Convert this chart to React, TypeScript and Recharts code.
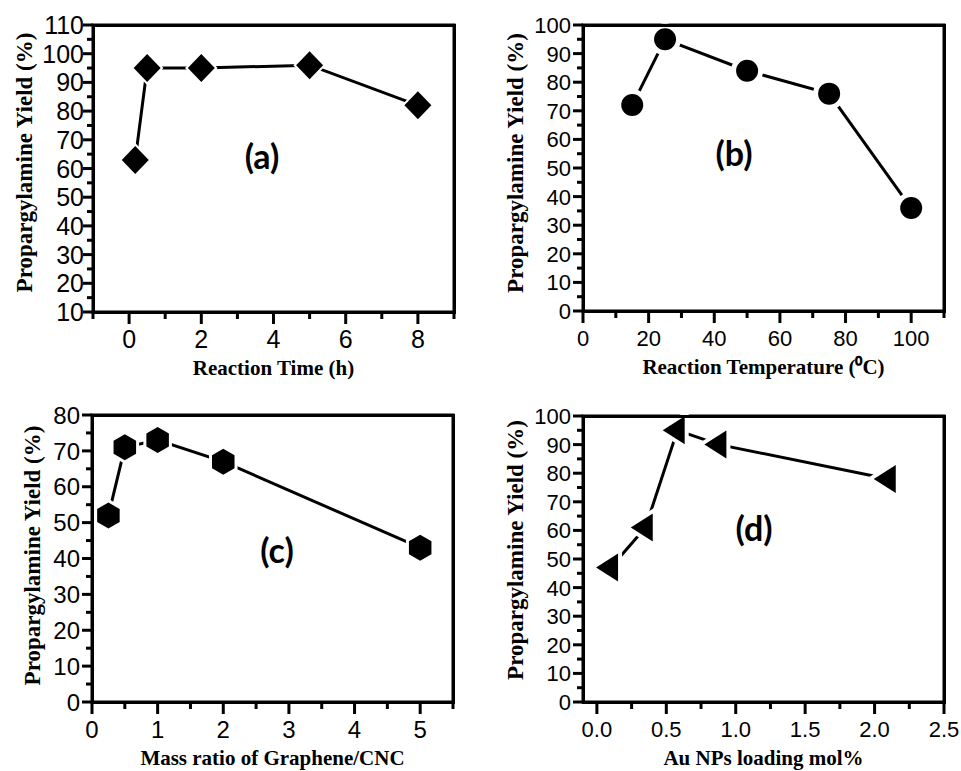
import React from 'react';
import { LineChart, Line, XAxis, YAxis } from 'recharts';

// (a) reaction time
const timeH = [0.17, 0.5, 2, 5, 8];
const timeYield = [63, 95, 95, 96, 82];
// (b) reaction temperature
const tempC = [15, 25, 50, 75, 100];
const tempYield = [72, 95, 84, 76, 36];
// (c) graphene / CNC mass ratio
const massRatio = [0.25, 0.5, 1, 2, 5];
const massYield = [52, 71, 73, 67, 43];
// (d) Au NPs loading
const auLoading = [0.1, 0.35, 0.58, 0.88, 2.1];
const auYield = [47, 61, 95, 90, 78];

const timeTicks = [-1, 0, 1, 2, 3, 4, 5, 6, 7, 8, 9];
const timeLabels = [0, 2, 4, 6, 8];
const tempTicks = [0, 10, 20, 30, 40, 50, 60, 70, 80, 90, 100, 110];
const tempLabels = [0, 20, 40, 60, 80, 100];
const massTicks = [0, 0.5, 1, 1.5, 2, 2.5, 3, 3.5, 4, 4.5, 5, 5.5];
const massLabels = [0, 1, 2, 3, 4, 5];
const auTicks = [0, 0.25, 0.5, 0.75, 1, 1.25, 1.5, 1.75, 2, 2.25, 2.5];
const auLabels = [0, 0.5, 1, 1.5, 2, 2.5];

const yTicks110 = [10, 15, 20, 25, 30, 35, 40, 45, 50, 55, 60, 65, 70, 75, 80, 85, 90, 95, 100, 105, 110];
const yLabels110 = [10, 20, 30, 40, 50, 60, 70, 80, 90, 100, 110];
const yTicks100 = [0, 5, 10, 15, 20, 25, 30, 35, 40, 45, 50, 55, 60, 65, 70, 75, 80, 85, 90, 95, 100];
const yLabels100 = [0, 10, 20, 30, 40, 50, 60, 70, 80, 90, 100];
const yTicks80 = [0, 5, 10, 15, 20, 25, 30, 35, 40, 45, 50, 55, 60, 65, 70, 75, 80];
const yLabels80 = [0, 10, 20, 30, 40, 50, 60, 70, 80];

const Y_TITLE = 'Propargylamine Yield (%)';
const SANS = "'Liberation Sans', Arial, sans-serif";
const SERIF = "'Liberation Serif', 'Times New Roman', serif";
const Y_AXIS_W = 60;
const X_AXIS_H = 64;

const has = (list: number[], v: number) => list.some((t) => Math.abs(t - v) < 1e-6);

type Marker = 'diamond' | 'circle' | 'hexagon' | 'triangleLeft';

const markerShape = (kind: Marker, cx: number, cy: number, gap: number) => {
  const common = { fill: '#000', stroke: '#fff', strokeWidth: gap * 2, paintOrder: 'stroke' as any };
  if (kind === 'circle') return <circle cx={cx} cy={cy} r={11} {...common} />;
  let pts: number[][] = [];
  if (kind === 'diamond') {
    pts = [[0, -14], [13.5, 0], [0, 14], [-13.5, 0]];
  } else if (kind === 'hexagon') {
    const r = 13;
    pts = [0, 1, 2, 3, 4, 5].map((i) => {
      const a = (Math.PI / 3) * i - Math.PI / 2;
      return [r * Math.cos(a), r * Math.sin(a)];
    });
  } else {
    pts = [[-14.7, 0], [7.3, -14], [7.3, 14]];
  }
  return <polygon points={pts.map((p) => `${cx + p[0]},${cy + p[1]}`).join(' ')} {...common} />;
};

interface PanelProps {
  xs: number[];
  ys: number[];
  box: { left: number; top: number; width: number; height: number };
  margin: { top: number; right: number; bottom: number; left: number };
  xDomain: [number, number];
  xTicks: number[];
  xLabels: number[];
  xFmt?: (v: number) => string;
  yDomain: [number, number];
  yTicks: number[];
  yLabels: number[];
  xTitle: string;
  marker: Marker;
  gap: number;
  letter: string;
  letterPos: [number, number];
  tickFont: number;
  yLabelGap: number;
  yTitleShift: [number, number];
}

const Panel = (p: PanelProps) => {
  const data = p.xs.map((x, i) => ({ x, y: p.ys[i] }));
  const fmt = p.xFmt || ((v: number) => String(v));
  const plotW = p.box.width - p.margin.left - p.margin.right - Y_AXIS_W;
  const plotH = p.box.height - p.margin.top - p.margin.bottom - X_AXIS_H;
  const plotX = p.margin.left + Y_AXIS_W;
  const plotY = p.margin.top;

  const bottomTick = (t: any) => {
    const v = t.payload.value;
    const major = has(p.xLabels, v);
    return (
      <g>
        <line x1={t.x} x2={t.x} y1={t.y} y2={t.y + (major ? 12 : 7)} stroke="#000" strokeWidth={3} />
        {major && (
          <text x={t.x} y={t.y + 27} dy="0.36em" textAnchor="middle" fontSize={p.tickFont} fontFamily={SANS} fill="#000">
            {fmt(v)}
          </text>
        )}
      </g>
    );
  };
  const leftTick = (t: any) => {
    const v = t.payload.value;
    const major = has(p.yLabels, v);
    return (
      <g>
        <line x1={t.x} x2={t.x - (major ? 10 : 6)} y1={t.y} y2={t.y} stroke="#000" strokeWidth={3} />
        {major && (
          <text x={t.x - p.yLabelGap} y={t.y} dy="0.36em" textAnchor="end" fontSize={p.tickFont} fontFamily={SANS} fill="#000">
            {v}
          </text>
        )}
      </g>
    );
  };

  // the first dot also carries the plot frame (dot layer is always painted)
  const dot = (d: any) => (
    <g key={`m-${d.index}`}>
      {d.index === 0 && (
        <rect x={plotX} y={plotY} width={plotW} height={plotH} fill="none" stroke="#000" strokeWidth={3} />
      )}
      {markerShape(p.marker, d.cx, d.cy, p.gap)}
    </g>
  );

  const xTitle = (l: any) => {
    const vb = l.viewBox;
    return (
      <text x={vb.x + vb.width / 2} y={vb.y + 63} textAnchor="middle" fontSize={21} fontWeight="bold" fontFamily={SERIF} fill="#000">
        {p.xTitle}
      </text>
    );
  };
  const yTitle = (l: any) => {
    const vb = l.viewBox;
    const cx = vb.x + vb.width + p.yTitleShift[0];
    const cy = vb.y + vb.height / 2 + p.yTitleShift[1];
    return (
      <text x={cx} y={cy} transform={`rotate(-90, ${cx}, ${cy})`} textAnchor="middle" dy="0.35em" fontSize={23} fontWeight="bold" fontFamily={SERIF} fill="#000">
        {Y_TITLE}
      </text>
    );
  };

  return (
    <div style={{ position: 'absolute', left: p.box.left, top: p.box.top, width: p.box.width, height: p.box.height }}>
      <LineChart width={p.box.width} height={p.box.height} data={data} margin={p.margin}>
        <Line
          dataKey="y"
          type="linear"
          stroke="#000"
          strokeWidth={3}
          isAnimationActive={false}
          dot={dot}
          activeDot={false}
        />
        <XAxis
          dataKey="x"
          type="number"
          domain={p.xDomain}
          ticks={p.xTicks}
          interval={0}
          height={X_AXIS_H}
          tickSize={0}
          tickMargin={0}
          axisLine={false}
          tick={bottomTick}
          label={xTitle}
        />
        <YAxis
          type="number"
          domain={p.yDomain}
          ticks={p.yTicks}
          interval={0}
          width={Y_AXIS_W}
          tickSize={0}
          tickMargin={0}
          axisLine={false}
          tick={leftTick}
          label={yTitle}
        />
      </LineChart>
      <div
        style={{
          position: 'absolute',
          left: plotX - 1.5,
          top: plotY - 1.5,
          width: plotW + 3,
          height: plotH + 3,
          border: '3px solid #000',
          boxSizing: 'border-box',
          pointerEvents: 'none',
        }}
      />
      <div
        style={{
          position: 'absolute',
          left: p.letterPos[0],
          top: p.letterPos[1],
          transform: 'translate(-50%, -50%)',
          fontFamily: 'Lato, "Open Sans", sans-serif',
          fontWeight: 700,
          fontSize: 34,
          lineHeight: 1,
          color: '#000',
          whiteSpace: 'nowrap',
        }}
      >
        {p.letter}
      </div>
    </div>
  );
};

export default function App() {
  return (
    <div style={{ position: 'absolute', left: 0, top: 0, width: 961, height: 771, background: '#fff', overflow: 'hidden' }}>
      <Panel
        xs={timeH}
        ys={timeYield}
        box={{ left: 0, top: 0, width: 480, height: 385 }}
        margin={{ top: 25, right: 26, bottom: 9, left: 33 }}
        xDomain={[-1, 9]}
        xTicks={timeTicks}
        xLabels={timeLabels}
        yDomain={[10, 110]}
        yTicks={yTicks110}
        yLabels={yLabels110}
        xTitle="Reaction Time (h)"
        marker="diamond"
        gap={2}
        letter="(a)"
        letterPos={[262, 156]}
        tickFont={25}
        yLabelGap={9}
        yTitleShift={[-69, -6]}
      />
      <Panel
        xs={tempC}
        ys={tempYield}
        box={{ left: 480, top: 0, width: 481, height: 385 }}
        margin={{ top: 25, right: 17, bottom: 10, left: 43 }}
        xDomain={[0, 110]}
        xTicks={tempTicks}
        xLabels={tempLabels}
        yDomain={[0, 100]}
        yTicks={yTicks100}
        yLabels={yLabels100}
        xTitle="Reaction Temperature (⁰C)"
        marker="circle"
        gap={5}
        letter="(b)"
        letterPos={[254, 153]}
        tickFont={22}
        yLabelGap={12}
        yTitleShift={[-68, -5]}
      />
      <Panel
        xs={massRatio}
        ys={massYield}
        box={{ left: 0, top: 380, width: 480, height: 391 }}
        margin={{ top: 35, right: 27, bottom: 5, left: 32 }}
        xDomain={[0, 5.5]}
        xTicks={massTicks}
        xLabels={massLabels}
        yDomain={[0, 80]}
        yTicks={yTicks80}
        yLabels={yLabels80}
        xTitle="Mass ratio of Graphene/CNC"
        marker="hexagon"
        gap={3}
        letter="(c)"
        letterPos={[277, 170]}
        tickFont={24}
        yLabelGap={12}
        yTitleShift={[-60, -3]}
      />
      <Panel
        xs={auLoading}
        ys={auYield}
        box={{ left: 480, top: 380, width: 481, height: 391 }}
        margin={{ top: 36, right: 17, bottom: 5, left: 43 }}
        xDomain={[-0.1, 2.5]}
        xTicks={auTicks}
        xLabels={auLabels}
        xFmt={(v) => v.toFixed(1)}
        yDomain={[0, 100]}
        yTicks={yTicks100}
        yLabels={yLabels100}
        xTitle="Au NPs loading mol%"
        marker="triangleLeft"
        gap={4}
        letter="(d)"
        letterPos={[274, 148]}
        tickFont={22}
        yLabelGap={12}
        yTitleShift={[-68, -9]}
      />
    </div>
  );
}
